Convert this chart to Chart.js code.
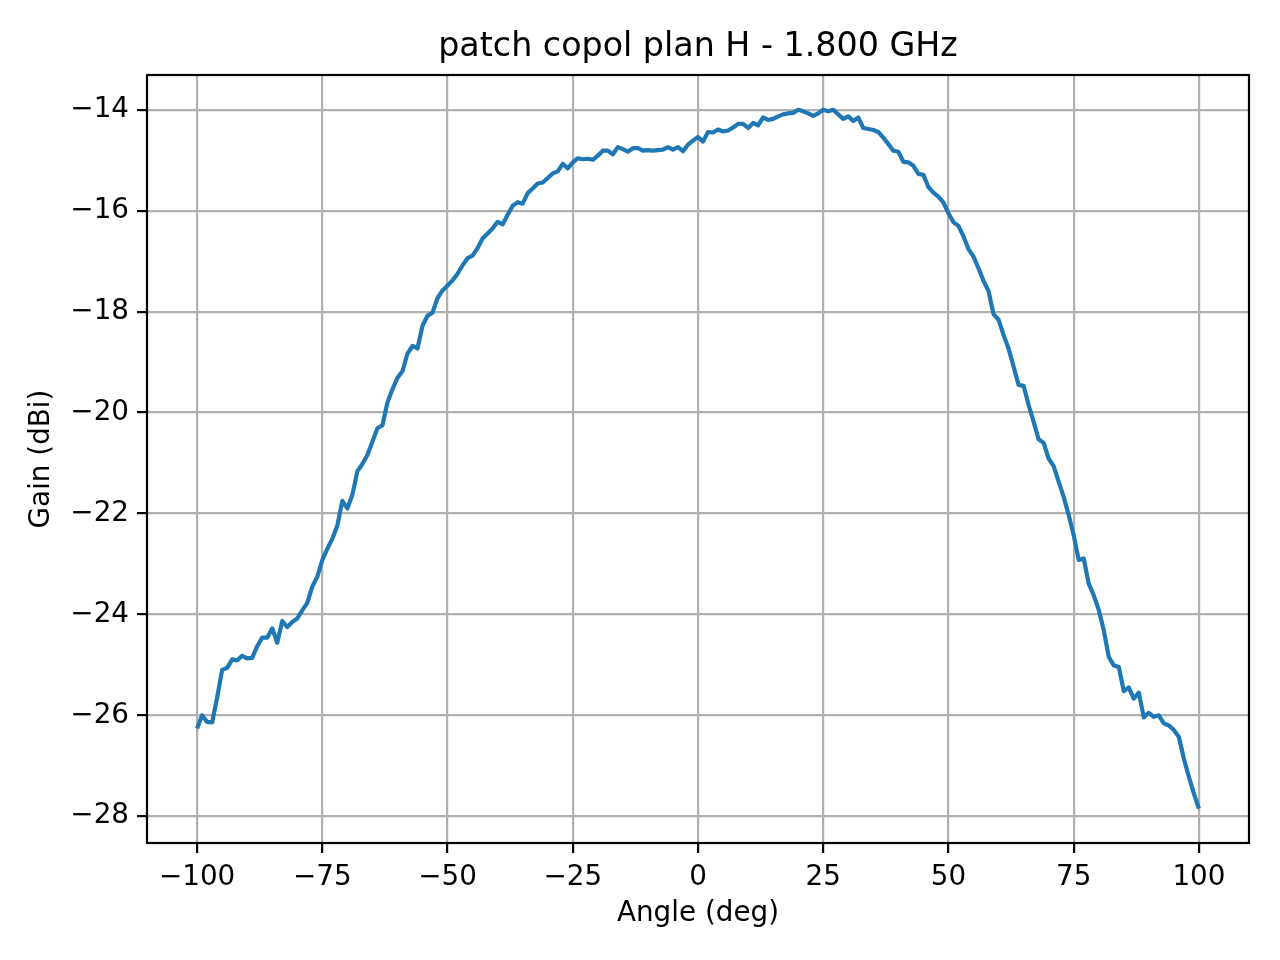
<!DOCTYPE html>
<html>
<head>
<meta charset="utf-8">
<script src="https://cdn.jsdelivr.net/npm/chart.js@4.4.1/dist/chart.umd.min.js"></script>
<style>
  html, body { margin: 0; padding: 0; background: #ffffff; }
  #wrap { width: 1280px; height: 960px; }
</style>
</head>
<body>
<div id="wrap"><canvas id="diagramme" width="1280" height="960"></canvas></div>
<script>
// angle de mesure (deg)
var angles = [
  -100, -99, -98, -97, -96, -95, -94, -93, -92, -91, -90, -89, -88, -87, -86, -85, -84, -83, -82, -81,
  -80, -79, -78, -77, -76, -75, -74, -73, -72, -71, -70, -69, -68, -67, -66, -65, -64, -63, -62, -61,
  -60, -59, -58, -57, -56, -55, -54, -53, -52, -51, -50, -49, -48, -47, -46, -45, -44, -43, -42, -41,
  -40, -39, -38, -37, -36, -35, -34, -33, -32, -31, -30, -29, -28, -27, -26, -25, -24, -23, -22, -21,
  -20, -19, -18, -17, -16, -15, -14, -13, -12, -11, -10, -9, -8, -7, -6, -5, -4, -3, -2, -1,
  0, 1, 2, 3, 4, 5, 6, 7, 8, 9, 10, 11, 12, 13, 14, 15, 16, 17, 18, 19,
  20, 21, 22, 23, 24, 25, 26, 27, 28, 29, 30, 31, 32, 33, 34, 35, 36, 37, 38, 39,
  40, 41, 42, 43, 44, 45, 46, 47, 48, 49, 50, 51, 52, 53, 54, 55, 56, 57, 58, 59,
  60, 61, 62, 63, 64, 65, 66, 67, 68, 69, 70, 71, 72, 73, 74, 75, 76, 77, 78, 79,
  80, 81, 82, 83, 84, 85, 86, 87, 88, 89, 90, 91, 92, 93, 94, 95, 96, 97, 98, 99,
  100
];

// gain copolaire plan H (dBi)
var gain = [
  -26.26, -26.00, -26.13, -26.14, -25.65, -25.10, -25.06, -24.89, -24.91, -24.82,
  -24.87, -24.86, -24.63, -24.46, -24.46, -24.28, -24.56, -24.13, -24.25, -24.15,
  -24.08, -23.92, -23.77, -23.45, -23.25, -22.92, -22.70, -22.50, -22.24, -21.75,
  -21.90, -21.63, -21.16, -21.02, -20.84, -20.58, -20.31, -20.25, -19.80, -19.54,
  -19.31, -19.18, -18.83, -18.68, -18.73, -18.28, -18.08, -18.02, -17.73, -17.58,
  -17.48, -17.38, -17.25, -17.08, -16.94, -16.89, -16.74, -16.55, -16.45, -16.35,
  -16.22, -16.27, -16.08, -15.90, -15.83, -15.86, -15.65, -15.56, -15.46, -15.44,
  -15.35, -15.26, -15.22, -15.07, -15.16, -15.04, -14.96, -14.98, -14.97, -14.99,
  -14.91, -14.81, -14.81, -14.88, -14.74, -14.78, -14.83, -14.76, -14.76, -14.81,
  -14.80, -14.81, -14.80, -14.79, -14.74, -14.79, -14.74, -14.82, -14.69, -14.61,
  -14.54, -14.63, -14.44, -14.45, -14.39, -14.43, -14.41, -14.35, -14.28, -14.28,
  -14.36, -14.26, -14.31, -14.15, -14.20, -14.18, -14.13, -14.09, -14.07, -14.06,
  -14.00, -14.03, -14.07, -14.12, -14.07, -14.00, -14.03, -14.00, -14.09, -14.18,
  -14.13, -14.22, -14.15, -14.36, -14.38, -14.40, -14.44, -14.55, -14.68, -14.81,
  -14.83, -15.03, -15.04, -15.11, -15.27, -15.29, -15.53, -15.64, -15.72, -15.84,
  -16.05, -16.23, -16.30, -16.51, -16.76, -16.91, -17.14, -17.39, -17.59, -18.05,
  -18.16, -18.46, -18.73, -19.09, -19.45, -19.47, -19.85, -20.18, -20.53, -20.60,
  -20.91, -21.06, -21.37, -21.67, -22.03, -22.43, -22.92, -22.89, -23.39, -23.62,
  -23.91, -24.31, -24.84, -25.01, -25.04, -25.52, -25.45, -25.67, -25.55, -26.04,
  -25.95, -26.03, -26.00, -26.16, -26.20, -26.29, -26.43, -26.86, -27.22, -27.55,
  -27.85
];

var xTicks = [-100, -75, -50, -25, 0, 25, 50, 75, 100];
var yTicks = [-28, -26, -24, -22, -20, -18, -16, -14];

var titre = 'patch copol plan H - 1.800 GHz';
var police = "'DejaVu Sans', 'Liberation Sans', sans-serif";

function moins(v) {
  return v < 0 ? '\u2212' + Math.abs(v) : String(v);
}

// cadre noir + titre au centre des axes, comme matplotlib
var cadre = {
  id: 'cadre',
  afterDraw: function (chart) {
    var a = chart.chartArea, c = chart.ctx;
    c.save();
    c.strokeStyle = '#000000';
    c.lineWidth = 2.2;
    c.strokeRect(a.left, a.top, a.right - a.left, a.bottom - a.top);
    c.fillStyle = '#000000';
    c.font = '33.3px ' + police;
    c.textAlign = 'center';
    c.textBaseline = 'middle';
    c.fillText(titre, (a.left + a.right) / 2, 47);
    c.restore();
  }
};

var ctx = document.getElementById('diagramme').getContext('2d');
var points = angles.map(function (a, i) { return {x: a, y: gain[i]}; });

var chart = new Chart(ctx, {
  type: 'line',
  data: {
    datasets: [{
      data: points,
      borderColor: '#1f77b4',
      borderWidth: 4.2,
      borderJoinStyle: 'round',
      pointRadius: 0,
      tension: 0,
      fill: false
    }]
  },
  options: {
    responsive: false,
    animation: false,
    devicePixelRatio: 1,
    layout: {
      padding: { top: 75, right: 31, bottom: 0, left: 0 }
    },
    plugins: {
      legend: { display: false },
      tooltip: { enabled: false },
      title: { display: false }
    },
    scales: {
      x: {
        type: 'linear',
        min: -110,
        max: 110,
        afterBuildTicks: function (s) { s.ticks = xTicks.map(function (v) { return {value: v}; }); },
        afterFit: function (s) { s.height = 117; },
        grid: {
          color: '#b0b0b0',
          lineWidth: 2.2,
          tickLength: 10,
          tickColor: '#000000',
          tickWidth: 2.2
        },
        border: { display: false },
        ticks: {
          color: '#000000',
          padding: 8,
          maxRotation: 0,
          font: { family: police, size: 27.8 },
          callback: function (v) { return moins(v); }
        },
        title: {
          display: true,
          text: 'Angle (deg)',
          color: '#000000',
          font: { family: police, size: 27.8 },
          padding: { top: 0, bottom: 30 }
        }
      },
      y: {
        type: 'linear',
        min: -28.53,
        max: -13.31,
        afterBuildTicks: function (s) { s.ticks = yTicks.map(function (v) { return {value: v}; }); },
        afterFit: function (s) { s.width = 147; },
        grid: {
          color: '#b0b0b0',
          lineWidth: 2.2,
          tickLength: 10,
          tickColor: '#000000',
          tickWidth: 2.2
        },
        border: { display: false },
        ticks: {
          color: '#000000',
          padding: 8,
          font: { family: police, size: 27.8 },
          callback: function (v) { return moins(v); }
        },
        title: {
          display: true,
          text: 'Gain (dBi)',
          color: '#000000',
          font: { family: police, size: 27.8 },
          padding: { top: 25, bottom: 0 }
        }
      }
    }
  },
  plugins: [cadre]
});
</script>
</body>
</html>
